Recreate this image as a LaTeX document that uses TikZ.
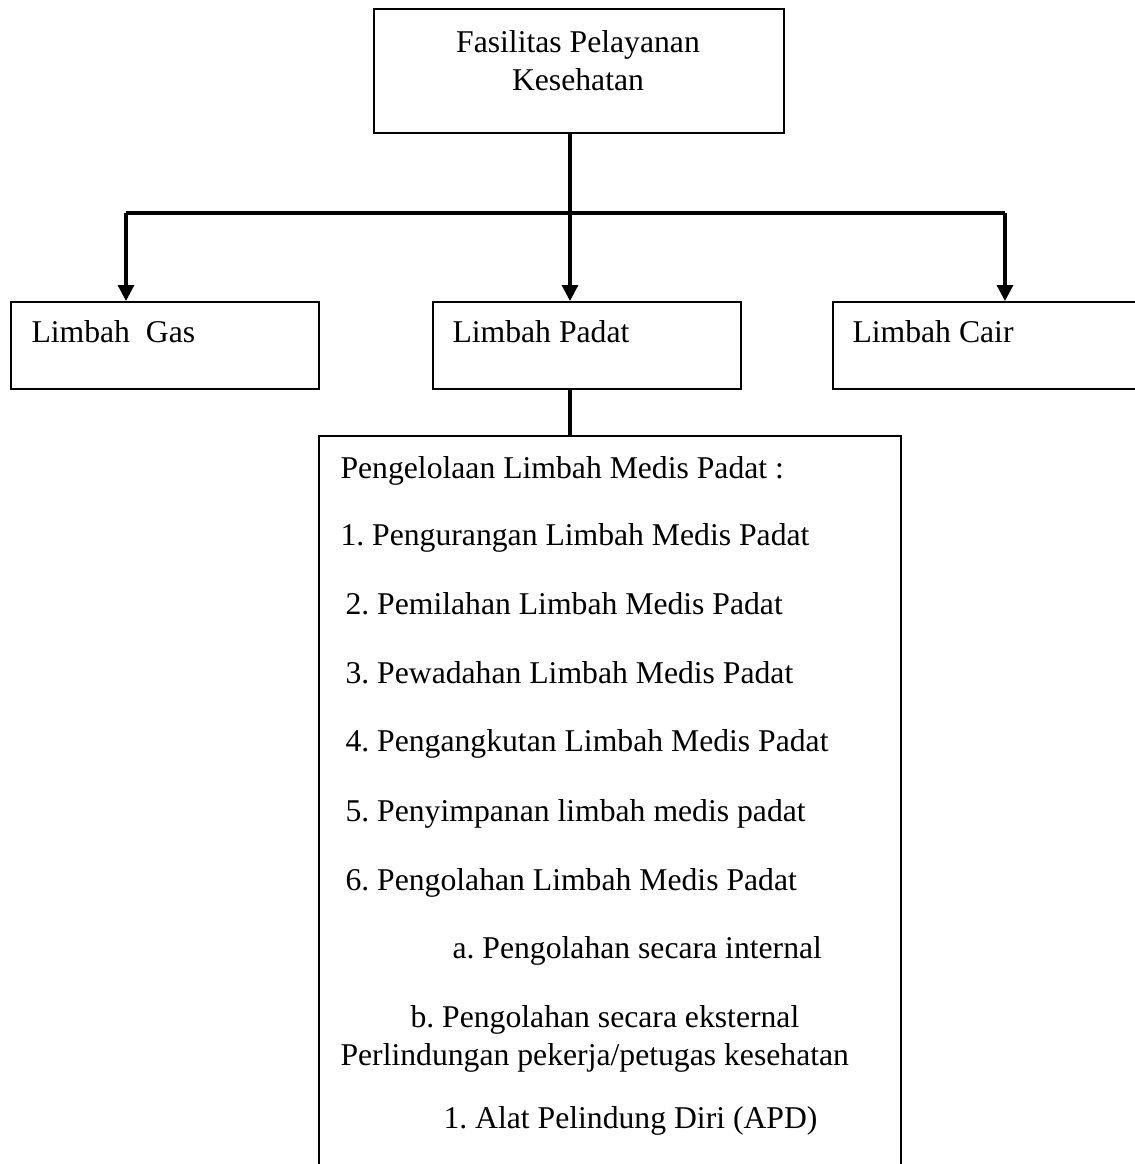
\documentclass[tikz,border=0pt]{standalone}
\usepackage{fontspec}
\setmainfont{Liberation Serif}
\usetikzlibrary{arrows.meta}
\frenchspacing
\begin{document}
\begin{tikzpicture}[x=0.3788pt,y=-0.3788pt,
  box/.style={draw,line width=0.75pt,inner sep=0pt,anchor=north west},
  lbl/.style={font=\fontsize{12pt}{14pt}\selectfont,anchor=base west,inner sep=0pt},
  clbl/.style={font=\fontsize{12pt}{14pt}\selectfont,anchor=base,inner sep=0pt},
  conn/.style={line width=1.2pt},
  arr/.style={conn,-{Triangle[length=6pt,width=6pt]}}]
\clip (0,0) rectangle (1135,1164);
\fill[white] (0,0) rectangle (1135,1164);
% boxes
\node[box,minimum width=155.3pt,minimum height=47pt] (top) at (373,8) {};
\node[box,minimum width=116.7pt,minimum height=33pt] (gas) at (10,301) {};
\node[box,minimum width=116.7pt,minimum height=33pt] (padat) at (432,301) {};
\node[box,minimum width=122pt,minimum height=33pt] (cair) at (832,301) {};
\node[box,minimum width=220.5pt,minimum height=290pt] (big) at (318,435) {};
% texts
\node[clbl] (t1) at (578,52) {Fasilitas Pelayanan};
\node[clbl] (t2) at (578,90) {Kesehatan};
\node[lbl] (tg) at (31,342) {Limbah\ \ Gas};
\node[lbl] (tp) at (452,342) {Limbah Padat};
\node[lbl] (tc) at (852,342) {Limbah Cair};
\node[lbl] (b0) at (340,478) {Pengelolaan Limbah Medis Padat :};
\node[lbl] (b1) at (340,545) {1. Pengurangan Limbah Medis Padat};
\node[lbl] (b2) at (345,614) {2. Pemilahan Limbah Medis Padat};
\node[lbl] (b3) at (345,683) {3. Pewadahan Limbah Medis Padat};
\node[lbl] (b4) at (345,751) {4. Pengangkutan Limbah Medis Padat};
\node[lbl] (b5) at (345,821) {5. Penyimpanan limbah medis padat};
\node[lbl] (b6) at (345,890) {6. Pengolahan Limbah Medis Padat};
\node[lbl] (ba) at (452,958) {a. Pengolahan secara internal};
\node[lbl] (bb) at (410,1027) {b. Pengolahan secara eksternal};
\node[lbl] (bp) at (340,1065) {Perlindungan pekerja/petugas kesehatan};
\node[lbl] (bq) at (443,1128) {1. Alat Pelindung Diri (APD)};
% connectors
\coordinate (jn) at (570,213);
\coordinate (jl) at (126,213);
\coordinate (jr) at (1005,213);
\draw[conn] (jn |- top.south) -- (jn);
\draw[conn] (jl) -- (jr);
\draw[arr] (jl) -- (jl |- gas.north);
\draw[arr] (jn) -- (jn |- padat.north);
\draw[arr] (jr) -- (jr |- cair.north);
\draw[conn] (jn |- padat.south) -- (jn |- big.north);
\end{tikzpicture}
\end{document}
